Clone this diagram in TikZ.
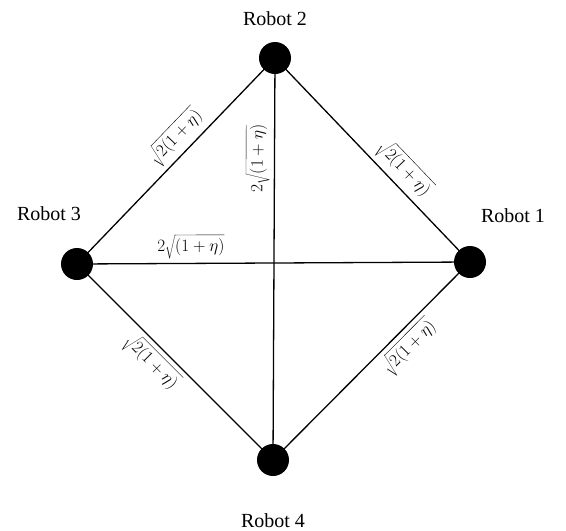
\documentclass[tikz,border=0pt]{standalone}
\usepackage{fontspec}
\setmainfont{Liberation Serif}
\usetikzlibrary{positioning}
\tikzset{
  robot/.style={circle,fill=black,inner sep=0pt,minimum size=32pt},
  robotname/.style={font=\fontsize{20}{22}\selectfont,inner sep=1pt},
  link/.style={line width=1.3pt,draw=black},
  dist/.style={sloped,font=\fontsize{17}{19}\selectfont,inner sep=4pt},
}
\begin{document}
\begin{tikzpicture}[x=1pt,y=-1pt]
  \useasboundingbox (0,0) rectangle (566,531);
  % the four robots
  \node[robot] (r2) at (275,58) {};
  \node[robot] (r3) at (77,264) {};
  \node[robot] (r1) at (470,262) {};
  \node[robot] (r4) at (273,460) {};
  \node[robotname,above=15pt of r2] (n2) {Robot 2};
  \node[robotname,above=26pt of r3,xshift=-28pt] (n3) {Robot 3};
  \node[robotname,above=22pt of r1,xshift=43pt] (n1) {Robot 1};
  \node[robotname,below=36pt of r4] (n4) {Robot 4};
  % links
  \draw[link] (r3.center) -- node[dist,above,pos=0.56] {$\sqrt{2(1+\eta)}$} (r2.center);
  \draw[link] (r2.center) -- node[dist,above,pos=0.6] {$\sqrt{2(1+\eta)}$} (r1.center);
  \draw[link] (r3.center) -- node[dist,below,pos=0.44] {$\sqrt{2(1+\eta)}$} (r4.center);
  \draw[link] (r4.center) -- node[dist,below,pos=0.63] {$\sqrt{2(1+\eta)}$} (r1.center);
  \draw[link] (r4.center) -- node[dist,above,pos=0.75] {$2\sqrt{(1+\eta)}$} (r2.center);
  \draw[link] (r3.center) -- node[dist,above,pos=0.29] {$2\sqrt{(1+\eta)}$} (r1.center);
\end{tikzpicture}
\end{document}
